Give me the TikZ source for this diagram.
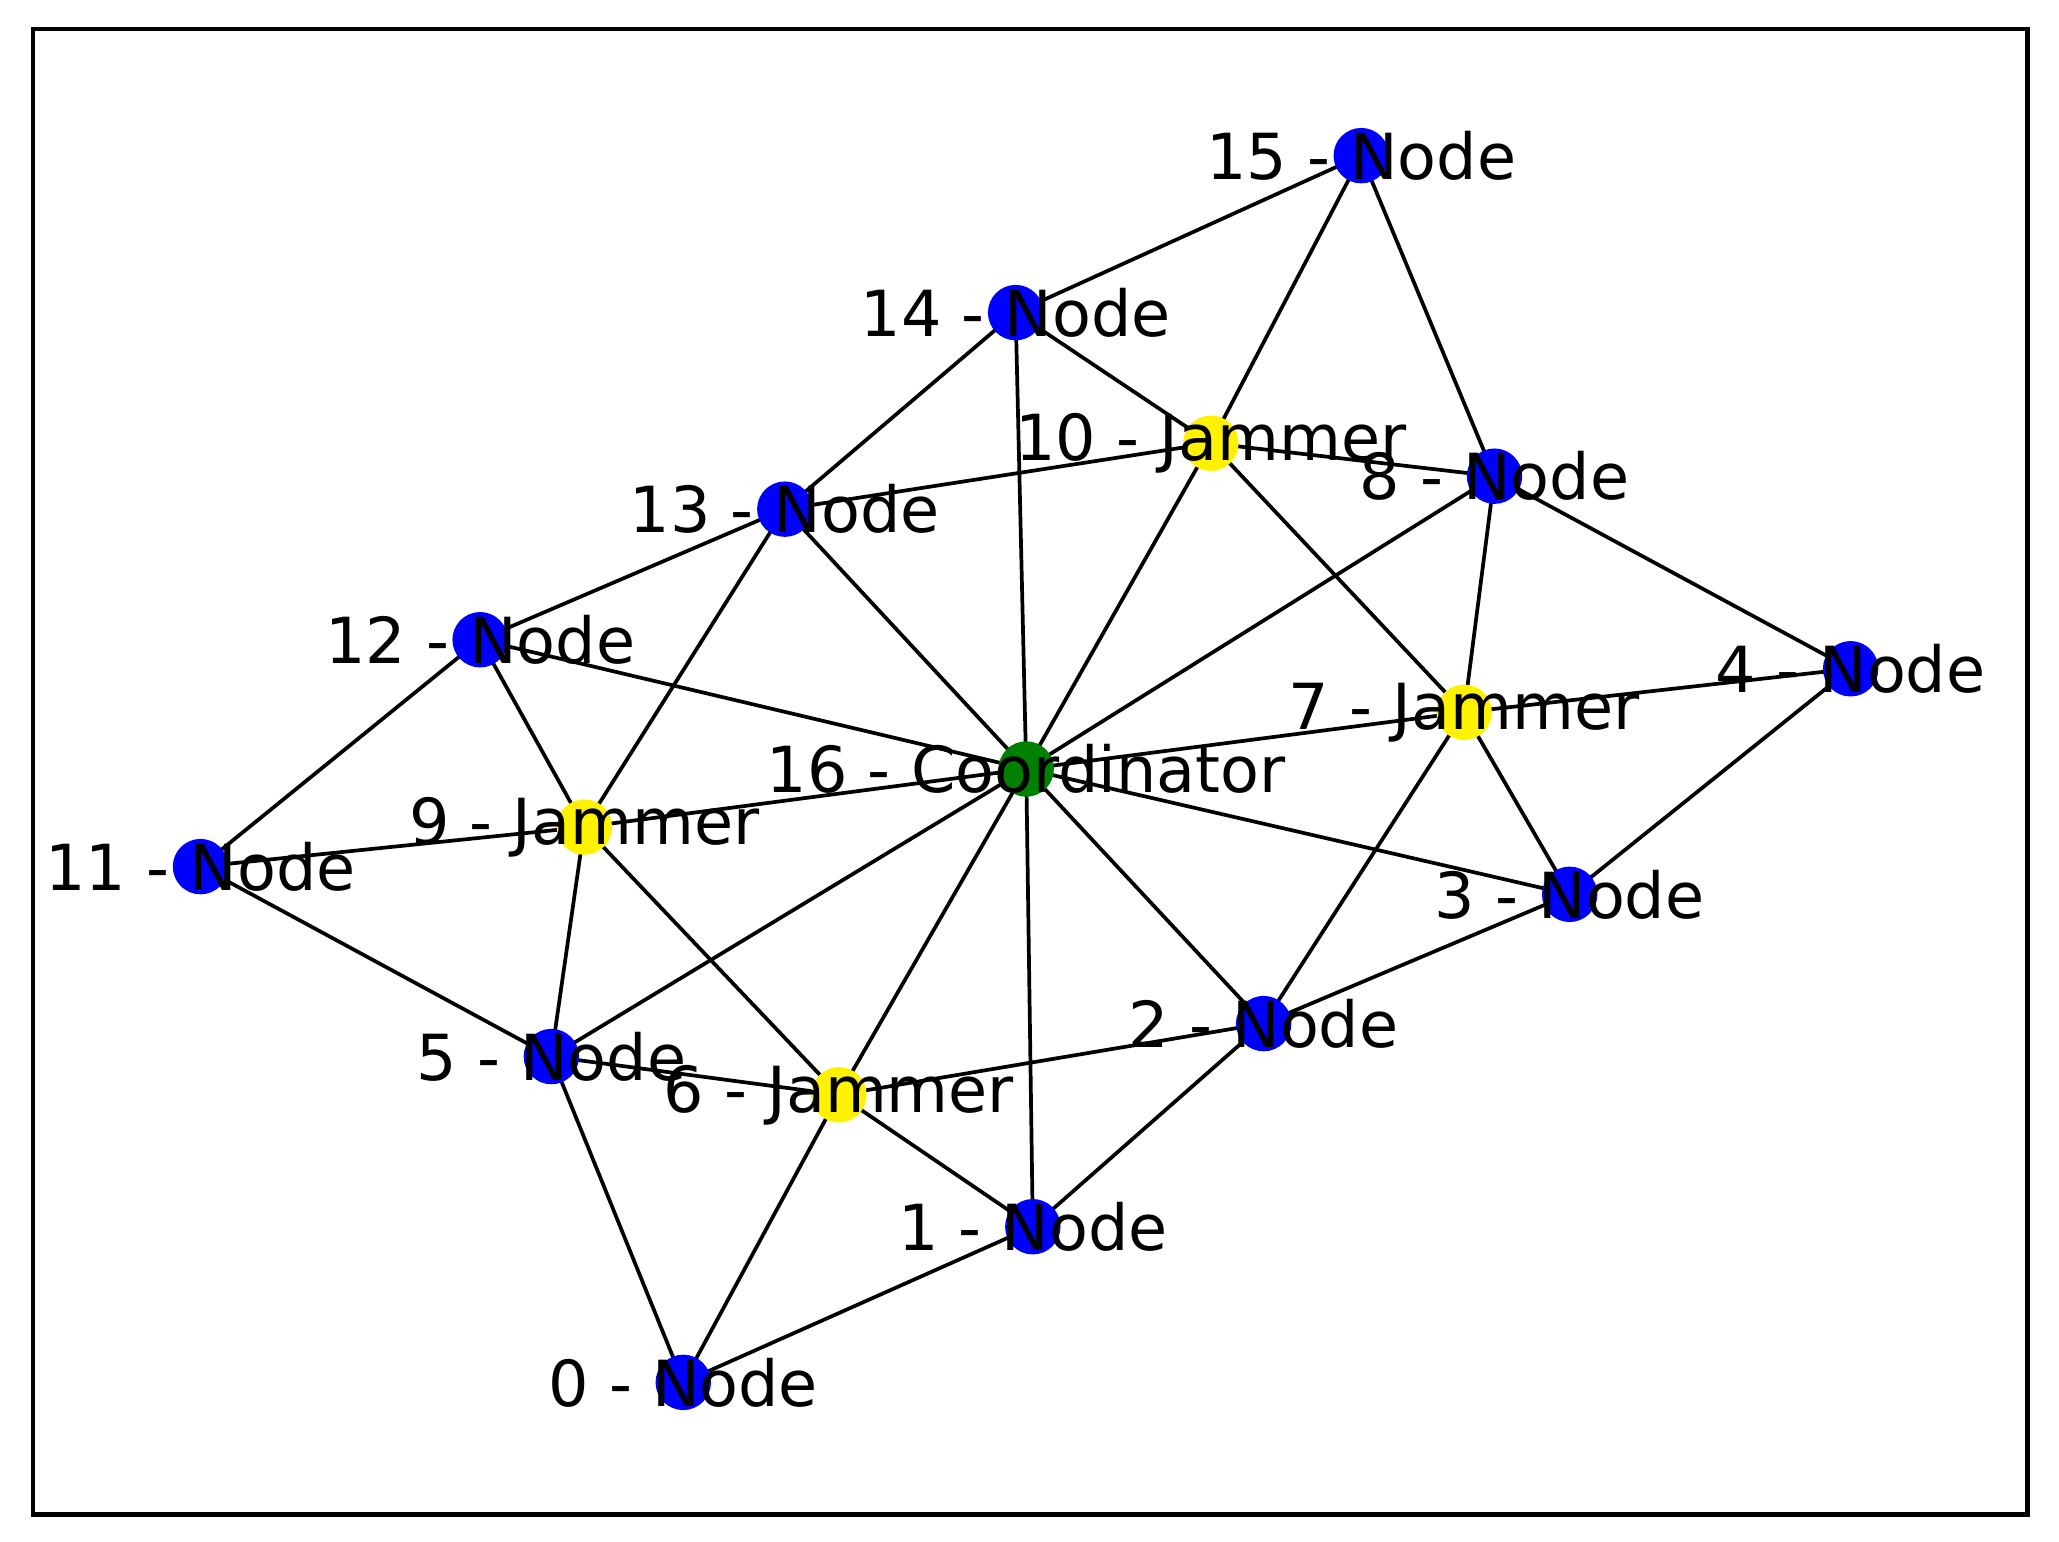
\documentclass[tikz,border=0pt]{standalone}
\usepackage{fontspec}
\setmainfont{DejaVu Sans}
\begin{document}
\begin{tikzpicture}[x=0.01cm,y=-0.01cm,
  dot/.style={circle,inner sep=0pt,minimum size=0.42cm},
  nd/.style={dot,fill=blue},
  jm/.style={dot,fill=yellow},
  co/.style={dot,fill=green!50!black},
  lbl/.style={font=\fontsize{13.7}{14}\selectfont,inner sep=0pt},
  edge/.style={line width=0.8pt,black}]
\useasboundingbox (0,0) rectangle (1561,1169);
\draw[line width=1pt] (25,22) rectangle (1537,1148);
\coordinate (n0) at (518,1048);
\coordinate (n1) at (783,930);
\coordinate (n2) at (958,776);
\coordinate (n3) at (1190,678);
\coordinate (n4) at (1403,507);
\coordinate (n5) at (418,801);
\coordinate (n6) at (636,830);
\coordinate (n7) at (1110,540);
\coordinate (n8) at (1133,361);
\coordinate (n9) at (443,627);
\coordinate (n10) at (918,336);
\coordinate (n11) at (152,657);
\coordinate (n12) at (364,485);
\coordinate (n13) at (595,386);
\coordinate (n14) at (770,237);
\coordinate (n15) at (1032,118);
\coordinate (n16) at (778,583);
\foreach \a/\b in {15/14,15/10,15/8,14/13,14/16,14/10,13/10,13/12,13/9,13/16,
  10/16,10/8,10/7,8/16,8/7,8/4,12/11,12/16,12/9,7/16,7/4,7/3,7/2,4/3,11/9,11/5,
  9/16,9/5,9/6,16/5,16/6,16/1,16/2,16/3,5/6,5/0,6/2,6/1,6/0,3/2,2/1,1/0}
  \draw[edge] (n\a) -- (n\b);
\foreach \i in {0,1,2,3,4,5,8,11,12,13,14,15} \node[nd] (d\i) at (n\i) {};
\foreach \i in {6,7,9,10} \node[jm] (d\i) at (n\i) {};
\node[co] (d16) at (n16) {};
\foreach \i in {0,1,2,3,4,5,8,11,12,13,14,15} \node[lbl] (t\i) at (n\i) {\i{} - Node};
\foreach \i in {6,7,9,10} \node[lbl] (t\i) at (n\i) {\i{} - Jammer};
\node[lbl] (t16) at (n16) {16 - Coordinator};
\end{tikzpicture}
\end{document}
